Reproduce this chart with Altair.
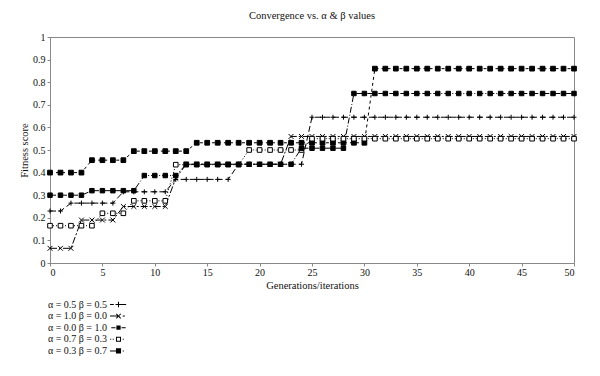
import altair as alt
import pandas as pd

iterations = list(range(0, 51))

series_labels = [
    "α = 0.5 β = 0.5",
    "α = 1.0 β = 0.0",
    "α = 0.0 β = 1.0",
    "α = 0.7 β = 0.3",
    "α = 0.3 β = 0.7",
]

fitness_a = [0.23, 0.23, 0.265, 0.265, 0.265, 0.265, 0.265, 0.315, 0.315, 0.315,
             0.315, 0.315, 0.37, 0.37, 0.37, 0.37, 0.37, 0.37, 0.437, 0.437,
             0.437, 0.437, 0.437, 0.437, 0.437, 0.645, 0.645, 0.645, 0.645, 0.645,
             0.645, 0.645, 0.645, 0.645, 0.645, 0.645, 0.645, 0.645, 0.645, 0.645,
             0.645, 0.645, 0.645, 0.645, 0.645, 0.645, 0.645, 0.645, 0.645, 0.645,
             0.645]
fitness_b = [0.065, 0.065, 0.065, 0.19, 0.19, 0.19, 0.19, 0.25, 0.25, 0.25,
             0.25, 0.25, 0.375, 0.437, 0.437, 0.437, 0.437, 0.437, 0.437, 0.437,
             0.437, 0.437, 0.437, 0.56, 0.56, 0.56, 0.56, 0.56, 0.56, 0.56,
             0.56, 0.56, 0.56, 0.56, 0.56, 0.56, 0.56, 0.56, 0.56, 0.56,
             0.56, 0.56, 0.56, 0.56, 0.56, 0.56, 0.56, 0.56, 0.56, 0.56,
             0.56]
fitness_c = [0.40, 0.40, 0.40, 0.40, 0.455, 0.455, 0.455, 0.455, 0.495, 0.495,
             0.495, 0.495, 0.495, 0.495, 0.532, 0.532, 0.532, 0.532, 0.532, 0.532,
             0.532, 0.532, 0.532, 0.532, 0.532, 0.532, 0.532, 0.532, 0.532, 0.532,
             0.532, 0.86, 0.86, 0.86, 0.86, 0.86, 0.86, 0.86, 0.86, 0.86,
             0.86, 0.86, 0.86, 0.86, 0.86, 0.86, 0.86, 0.86, 0.86, 0.86,
             0.86]
fitness_d = [0.165, 0.165, 0.165, 0.165, 0.165, 0.22, 0.22, 0.22, 0.275, 0.275,
             0.275, 0.275, 0.435, 0.435, 0.435, 0.435, 0.435, 0.435, 0.435, 0.50,
             0.50, 0.50, 0.50, 0.50, 0.50, 0.55, 0.55, 0.55, 0.55, 0.55,
             0.55, 0.55, 0.55, 0.55, 0.55, 0.55, 0.55, 0.55, 0.55, 0.55,
             0.55, 0.55, 0.55, 0.55, 0.55, 0.55, 0.55, 0.55, 0.55, 0.55,
             0.55]
fitness_e = [0.30, 0.30, 0.30, 0.30, 0.32, 0.32, 0.32, 0.32, 0.32, 0.387,
             0.387, 0.387, 0.387, 0.437, 0.437, 0.437, 0.437, 0.437, 0.437, 0.437,
             0.437, 0.437, 0.437, 0.437, 0.508, 0.508, 0.508, 0.508, 0.508, 0.75,
             0.75, 0.75, 0.75, 0.75, 0.75, 0.75, 0.75, 0.75, 0.75, 0.75,
             0.75, 0.75, 0.75, 0.75, 0.75, 0.75, 0.75, 0.75, 0.75, 0.75,
             0.75]

x_ticks = [0, 5, 10, 15, 20, 25, 30, 35, 40, 45, 50]
y_ticks = [0, 0.1, 0.2, 0.3, 0.4, 0.5, 0.6, 0.7, 0.8, 0.9, 1]

all_series = [fitness_a, fitness_b, fitness_c, fitness_d, fitness_e]
rows = []
for name, vals in zip(series_labels, all_series):
    for it, v in zip(iterations, vals):
        rows.append({"iteration": it, "fitness": v, "series": name, "key": name})
df = pd.DataFrame(rows)

FONT = "Liberation Serif"

dashes = [[6, 3], [7, 2, 2, 2], [3, 3], [1, 2], [6, 2, 1, 2]]
plot_shapes = [
    "M-1,0L1,0M0,-1L0,1",
    "M-1,-1L1,1M-1,1L1,-1",
    "M-1,-1L1,-1L1,1L-1,1Z",
    "M-1,-1L1,-1L1,1L-1,1Z",
    "M-1,-1L1,-1L1,1L-1,1Z",
]
plot_fills = ["black", "black", "black", "white", "black"]
plot_sizes = [25, 20, 12, 21, 25]

# legend glyphs: filled outlines drawn in a 17 px wide box, scaled (K) and
# shifted right (SH) so each glyph sits to the right of its right-aligned label.
# At symbol size 121 one path unit is 5.5 px.
K = 1.545
SH = 3.09


def poly(pts):
    return "M" + "L".join(f"{round(x * K + SH, 3)},{round(y * K, 3)}" for x, y in pts) + "Z"


def bar(x0, x1, h=0.06):
    return poly([(x0, -h), (x1, -h), (x1, h), (x0, h)])


def box(s):
    return poly([(-s, -s), (s, -s), (s, s), (-s, s)])


def ring(s, t=0.12):
    i = s - t
    return box(s) + poly([(-i, -i), (-i, i), (i, i), (i, -i)])


cross_x = (poly([(-0.3, -0.22), (-0.22, -0.3), (0.3, 0.22), (0.22, 0.3)])
           + poly([(-0.3, 0.22), (-0.22, 0.3), (0.3, -0.22), (0.22, -0.3)]))
plus_v = poly([(-0.06, -0.32), (0.06, -0.32), (0.06, 0.32), (-0.06, 0.32)])

legend_shapes = [
    bar(-1, -0.55) + bar(-0.35, 0.9) + plus_v,
    bar(-1, 0.1) + cross_x + bar(0.5, 0.75),
    bar(-0.85, -0.35) + box(0.25) + bar(0.35, 0.85),
    bar(-0.98, -0.86) + bar(-0.68, -0.56) + ring(0.3) + bar(0.5, 0.62),
    bar(-1, -0.3) + box(0.3) + bar(0.5, 0.62),
]

x_enc = alt.X("iteration:Q", scale=alt.Scale(domain=[0, 50], nice=False),
              axis=alt.Axis(values=x_ticks, title="Generations/iterations"))
y_enc = alt.Y("fitness:Q", scale=alt.Scale(domain=[0, 1], nice=False),
              axis=alt.Axis(values=y_ticks, format="~g", title="Fitness score"))

base = alt.Chart(df)

lines = base.mark_line(color="black", strokeWidth=1).encode(
    x=x_enc, y=y_enc,
    strokeDash=alt.StrokeDash("series:N", scale=alt.Scale(domain=series_labels, range=dashes), legend=None),
    detail="series:N",
)

points = base.mark_point(filled=False, stroke="black", strokeWidth=1, opacity=1).encode(
    x=x_enc, y=y_enc,
    shape=alt.Shape("series:N", scale=alt.Scale(domain=series_labels, range=plot_shapes), legend=None),
    fill=alt.Fill("series:N", scale=alt.Scale(domain=series_labels, range=plot_fills), legend=None),
    size=alt.Size("series:O", scale=alt.Scale(domain=series_labels, range=plot_sizes), legend=None),
)

leg = alt.Legend(
    orient="none", legendX=46, legendY=262, title=None,
    labelAlign="right", labelOffset=0, symbolOffset=0,
    labelFont=FONT, labelFontSize=10, labelColor="#111",
    symbolSize=121, symbolStrokeWidth=0, symbolFillColor="black",
    rowPadding=0.6, padding=0,
)

legend_layer = base.transform_filter("false").mark_point(filled=True, color="black", opacity=1).encode(
    x=x_enc, y=y_enc,
    shape=alt.Shape("key:N", scale=alt.Scale(domain=series_labels, range=legend_shapes), legend=leg),
)

chart = alt.layer(lines, points, legend_layer).resolve_scale(
    shape="independent"
).properties(
    width=524, height=226,
    padding={"left": 50, "top": 37, "right": 26, "bottom": 113},
    autosize=alt.AutoSizeParams(type="none"),
    title=alt.TitleParams("Convergence vs. α & β values", font=FONT, fontSize=10.5,
                          fontWeight="normal", color="#111", offset=11),
    background="white",
).configure_view(
    stroke="#888", strokeWidth=1
).configure_axis(
    grid=False, domainColor="#888", tickColor="#888", tickSize=3,
    labelFont=FONT, labelFontSize=10, labelColor="#111", labelPadding=1,
    titleFont=FONT, titleFontSize=10.5, titleFontWeight="normal", titleColor="#111",
).configure_axisY(titlePadding=3, labelPadding=2).configure_axisX(titlePadding=3)

chart.save("out.html", embed_options={"renderer": "svg", "actions": False})
